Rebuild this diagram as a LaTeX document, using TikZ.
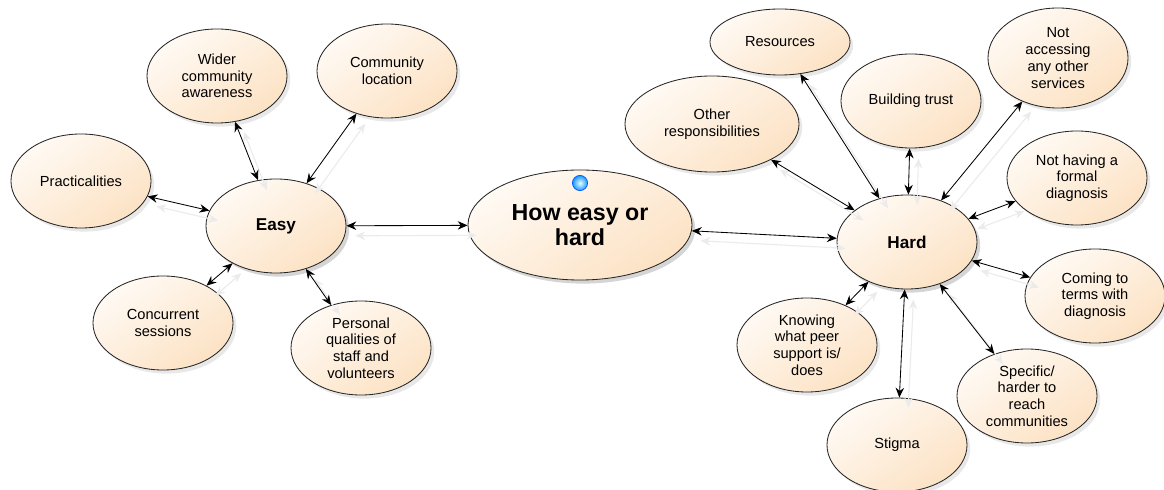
\documentclass[tikz,border=0pt]{standalone}
\usepackage{fontspec}
\setmainfont{Liberation Sans}
\usetikzlibrary{shapes.geometric,arrows.meta,shadows}
\definecolor{peachlight}{HTML}{FFFAF4}
\definecolor{peachdark}{HTML}{FCE2C4}
\tikzset{
	bubble/.style={ellipse, draw=black!85, line width=0.6pt, top color=peachlight, bottom color=peachdark, shading angle=35,
		align=center, inner sep=0pt, minimum width=3.5cm, minimum height=2.35cm, font=\fontsize{10.4}{11.9}\selectfont,
		drop shadow={opacity=0.18, shadow xshift=0.08cm, shadow yshift=-0.09cm}},
	core/.style={bubble, font=\bfseries\fontsize{12.2}{14}\selectfont},
	link/.style={{Stealth[length=7pt,width=6pt]}-{Stealth[length=7pt,width=6pt]}, line width=0.6pt,
		preaction={draw=black!8, line width=0.8pt, transform canvas={shift={(0.22cm,-0.25cm)}}}},
}
\newcommand{\theme}[5][] % [style]{nom}{x}{y}{texte}
{
	\node [bubble, #1] (#2) at (#3,#4) {#5};
}

\begin{document}
\begin{tikzpicture}[x=0.025cm, y=-0.025cm]
	\useasboundingbox (0,0) rectangle (1164,490);

	% left side
	\theme{practical}{81}{181}{Practicalities}
	\theme{wider}{217}{76}{Wider\\community\\awareness}
	\theme{location}{387}{71}{Community\\location}
	\theme{concurrent}{163}{323}{Concurrent\\sessions}
	\theme{personal}{361}{348}{Personal\\qualities of\\staff and\\volunteers}
	\theme[core]{easy}{276}{226}{Easy}

	% middle
	\theme[core, font=\bfseries\fontsize{16.5}{17.8}\selectfont, minimum width=5.6cm, minimum height=2.75cm]{question}{580}{225}{How easy or\\hard}
	\shade [inner color=cyan!10, outer color=blue!45!cyan!90, draw=blue!65!cyan, line width=0.5pt] (580,183) circle [radius=0.19cm];

	% right side
	\theme[minimum width=4.35cm, minimum height=2.4cm]{other}{712}{124}{Other\\responsibilities}
	\theme[minimum height=1.65cm]{resources}{780}{42}{Resources}
	\theme{trust}{911}{101}{Building trust}
	\theme[minimum height=2.5cm]{accessing}{1058}{58}{Not\\accessing\\any other\\services}
	\theme{formal}{1077}{178}{Not having a\\formal\\diagnosis}
	\theme{terms}{1095}{296}{Coming to\\terms with\\diagnosis}
	\theme{knowing}{807}{345}{Knowing\\what peer\\support is/\\does}
	\theme{stigma}{897}{445}{Stigma}
	\theme{specific}{1027}{396}{Specific/\\harder to\\reach\\communities}
	\theme[core]{hard}{907}{242}{Hard}

	\foreach \a in {practical,wider,location,concurrent,personal}
		\draw [link] (\a) -- (easy);
	\foreach \a in {other,resources,trust,accessing,formal,terms,knowing,stigma,specific}
		\draw [link] (\a) -- (hard);
	\draw [link] (easy) -- (question);
	\draw [link] (question) -- (hard);

\end{tikzpicture}
\end{document}
